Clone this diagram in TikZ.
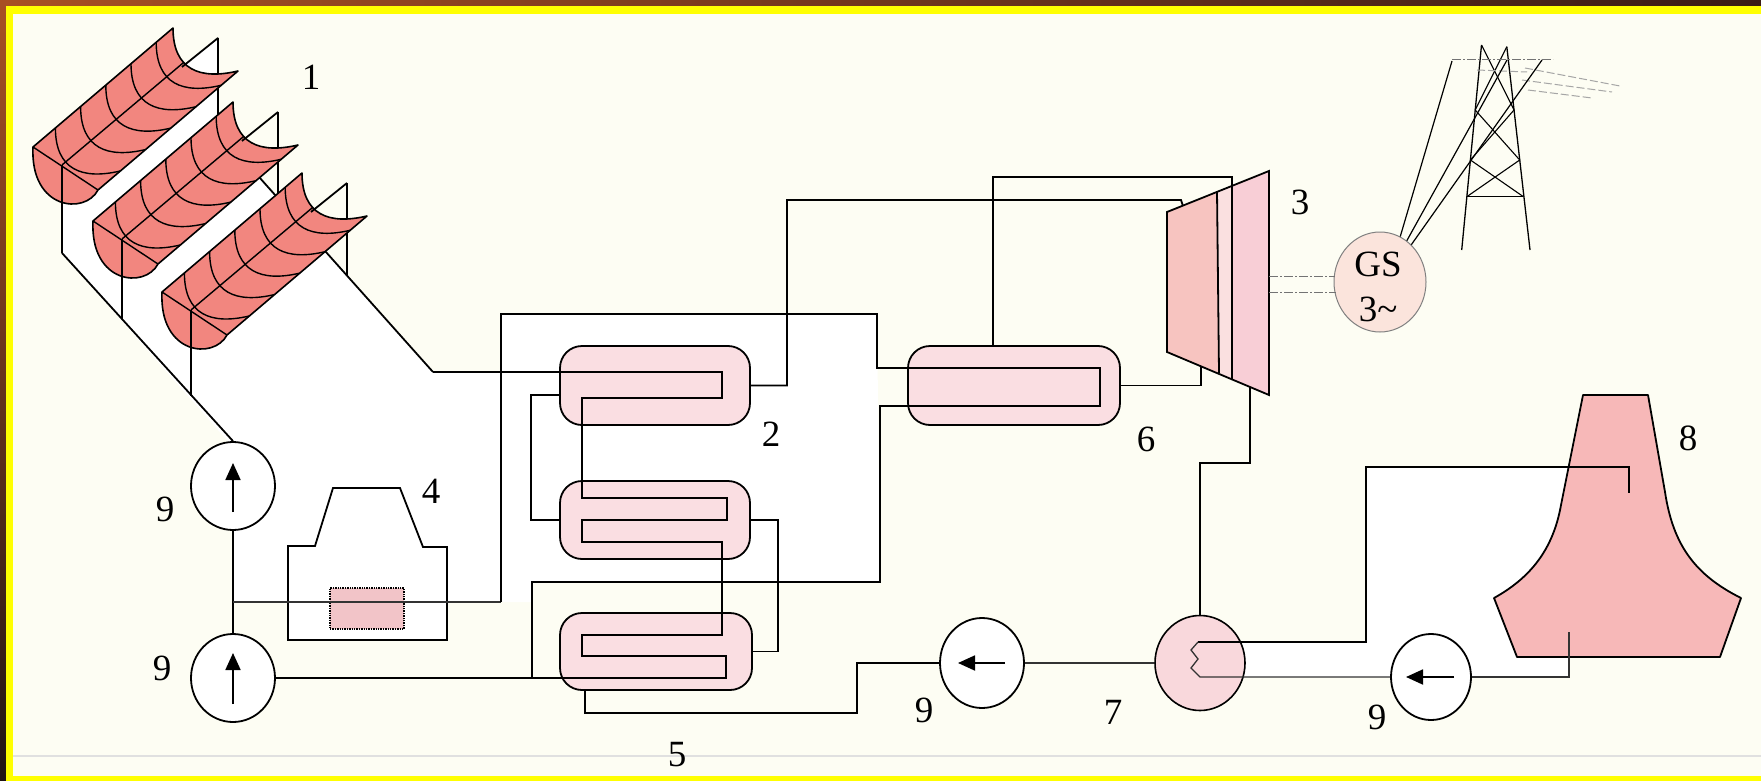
\documentclass[tikz,border=0pt]{standalone}
\usepackage{fontspec}
\setmainfont{Liberation Serif}
\usetikzlibrary{shapes.geometric,arrows.meta}
\definecolor{paper}{RGB}{253,253,243}
\definecolor{rimtop}{RGB}{168,80,36}
\definecolor{rimmid}{RGB}{196,104,50}
\definecolor{rimdark}{RGB}{58,28,22}
\definecolor{rimleftlow}{RGB}{32,20,20}
\definecolor{rimyellow}{RGB}{255,255,0}
\definecolor{mirror}{RGB}{242,134,127}
\definecolor{hxpink}{RGB}{250,222,226}
\definecolor{heaterpink}{RGB}{242,196,200}
\definecolor{turbA}{RGB}{247,196,192}
\definecolor{turbB}{RGB}{250,224,224}
\definecolor{turbC}{RGB}{248,206,214}
\definecolor{genpink}{RGB}{251,228,220}
\definecolor{condpink}{RGB}{249,216,220}
\definecolor{towerpink}{RGB}{247,184,184}

\begin{document}
\begin{tikzpicture}[x=1pt,y=-1pt,
  pipe/.style={line width=1.8pt},
  thinpipe/.style={line width=1.3pt,black!80},
  vessel/.style={draw,line width=1.8pt,fill=hxpink,rounded corners=22pt,inner sep=0pt},
  pumpbody/.style={ellipse,draw,line width=1.8pt,fill=white,inner sep=0pt},
  num/.style={inner sep=0pt,font=\fontsize{37}{40}\selectfont},
  flowtip/.style={line width=1.8pt,-{Triangle[length=17pt,width=15pt]}},
  shaft/.style={line width=1pt,black!55,dash pattern=on 9pt off 2pt on 2pt off 2pt},
  wire/.style={line width=1pt,black!35,dash pattern=on 8pt off 3pt},
]
\useasboundingbox (0,0) rectangle (1761,781);

% paper and frame
\fill[paper] (0,0) rectangle (1761,781);
\shade[left color=rimtop,middle color=rimmid,right color=rimdark] (0,0) rectangle (1761,6);
\shade[top color=rimtop,bottom color=rimleftlow] (0,0) rectangle (6,781);
\fill[rimyellow] (6,6) rectangle (1761,14);
\fill[rimyellow] (6,6) rectangle (13,781);
\fill[rimyellow] (6,776) rectangle (1761,781);
\draw[black!12,line width=1.5pt] (13,756) -- (1761,756);

% white areas enclosed by the piping
\fill[white] (62,165) -- (62,253) -- (233,447) -- (233,602) -- (501,602) -- (501,372) -- (433,372) -- (218,131) -- (218,38) -- (182,67) -- cycle;
\fill[white] (501,314) -- (877,314) -- (880,582) -- (532,582) -- (532,602) -- (501,602) -- cycle;
\fill[white] (1366,467) -- (1569,467) -- (1569,677) -- (1200,677) -- (1200,642) -- (1366,642) -- cycle;

% rear collector header with the support posts
\draw[pipe] (218,38) -- (218,131) -- (433,372);
\draw[pipe] (278,112) -- (278,198);
\draw[pipe] (347,183) -- (347,275.6);

% parabolic trough collectors
\foreach \dx/\dy in {0/0,60/74,129/145}{
  \begin{scope}[shift={(\dx,\dy)}]
    \fill[mirror] (33,147) -- (173,28) .. controls (173,70) and (200,80) .. (238,71) -- (98,190) .. controls (85,215) and (30,210) .. cycle;
    \begin{scope}
      \clip (33,147) -- (173,28) .. controls (173,70) and (200,80) .. (238,71) -- (98,190) .. controls (85,215) and (30,210) .. cycle;
      \foreach \k in {0.6,1.5,2.4,3.3,4.2}
        \draw[line width=1.4pt,shift={(-28*\k,23.8*\k)}] (173,28) .. controls (173,70) and (200,80) .. (238,71);
      \draw[line width=1.4pt] (62,165) -- (202,47);
      \draw[line width=1.4pt] (33,147) -- (98,190);
    \end{scope}
    \draw[line width=1.6pt,line join=round] (33,147) -- (173,28) .. controls (173,70) and (200,80) .. (238,71) -- (98,190) .. controls (85,215) and (30,210) .. cycle;
    \draw[pipe] (182,67) -- (218,38);
  \end{scope}
}

% equipment
\node[vessel,minimum width=190pt,minimum height=79pt] (hxa) at (655,385.5) {};
\node[vessel,minimum width=190pt,minimum height=78pt] (hxb) at (655,520) {};
\node[vessel,minimum width=192pt,minimum height=77pt] (hxc) at (656,651.5) {};
\node[vessel,minimum width=212pt,minimum height=79pt] (hxd) at (1014,385.5) {};
\node[pumpbody,minimum width=84pt,minimum height=88pt] (p1) at (233,486) {};
\node[pumpbody,minimum width=84pt,minimum height=88pt] (p2) at (233,678) {};
\node[pumpbody,minimum width=84pt,minimum height=90pt] (p3) at (982,663) {};
\node[pumpbody,minimum width=80pt,minimum height=86pt] (p4) at (1431,677) {};
\node[ellipse,draw,line width=1.6pt,fill=condpink,inner sep=0pt,minimum width=90pt,minimum height=95pt] (cond) at (1200,663) {};
\node[ellipse,draw,line width=1pt,draw=black!50,fill=genpink,inner sep=0pt,minimum width=92pt,minimum height=100pt] (gs) at (1380,282) {};
\coordinate (jn) at (233,602);

% feed legs and front header to the solar pump
\draw[pipe] (62,165) -- (62,253);
\draw[pipe] (122,239) -- (122,319);
\draw[pipe] (191,310) -- (191,396);
\draw[pipe] (62,253) -- (p1.north);

% auxiliary heater
\draw[pipe,fill=white] (288,546) -- (315,546) -- (333,488) -- (400,488) -- (423,547) -- (447,547) -- (447,640) -- (288,640) -- cycle;
\node[draw,densely dotted,line width=1.4pt,fill=heaterpink,inner sep=0pt,minimum width=74pt,minimum height=41pt] (heater) at (367,608.5) {};

% turbine
\fill[turbA] (1167,212) -- (1218,191.5) -- (1218,373) -- (1167,352) -- cycle;
\fill[turbB] (1218,191.5) -- (1232,186) -- (1232,379) -- (1218,373) -- cycle;
\fill[turbC] (1232,186) -- (1269,171) -- (1269,395) -- (1232,379) -- cycle;
\draw[pipe,line join=miter] (1167,212) -- (1269,171) -- (1269,395) -- (1167,352) -- cycle;
\draw[pipe] (1217,191.5) -- (1219,373);

% cooling tower
\filldraw[fill=towerpink,line width=1.8pt,line join=round] (1583,395) -- (1648,395) -- (1665,492) .. controls (1673,545) and (1695,575) .. (1741,598) -- (1720,657) -- (1517,657) -- (1494,598) .. controls (1530,578) and (1553,550) .. (1561,505) -- cycle;

% transmission tower
\draw[line width=1.3pt] (1481.5,45) -- (1461.7,250);
\draw[line width=1.3pt] (1506.8,46.7) -- (1530,250);
\draw[line width=1.3pt] (1466.8,196.7) -- (1523.4,196.7);
\draw[line width=1.1pt] (1481.5,45) -- (1514,110) -- (1470.4,160) -- (1523.4,196.7);
\draw[line width=1.1pt] (1506.8,46.7) -- (1475.2,110) -- (1519.7,160) -- (1466.8,196.7);
\draw[shaft] (1452,60) -- (1553,60);
\draw[wire] (1477,70) -- (1527,72);
\draw[wire] (1525,68) -- (1620,86);
\draw[wire] (1522,80) -- (1612,92);
\draw[wire] (1528,90) -- (1592,98);
\draw[line width=1.2pt] (gs.66) -- (1452,61);
\draw[line width=1.2pt] (gs.57) -- (1507,60);
\draw[line width=1.2pt] (gs.50) -- (1542,60);

% turbine shaft to generator
\draw[shaft] (1269,276) -- (1335,276);
\draw[shaft] (1269,292) -- (1336,292);

% solar loop through the heat exchangers
\draw[pipe] (433,372) -- (722,372) -- (722,398) -- (582,398) -- (582,498) -- (727,498) -- (727,520) -- (582,520) -- (582,542) -- (722,542) -- (722,635) -- (582,635) -- (582,656) -- (726,656) -- (726,678) -- (532,678);
\draw[pipe] (p2.east) -- (532,678);
\draw[pipe] (p1.south) -- (p2.north);
\draw[thinpipe] (jn) -- (501,602);
\draw[pipe] (501,602) -- (501,314) -- (877,314) -- (877,368) -- (1100,368) -- (1100,406) -- (880,406) -- (880,582) -- (532,582) -- (532,678);

% water / steam side
\draw[pipe] (hxa.east) -- (787,385.5) -- (787,200) -- (1181,200) -- (1183,206);
\draw[pipe] (560,395) -- (531,395) -- (531,520) -- (hxb.west);
\draw[pipe] (hxb.east) -- (778,520) -- (778,651.5) -- (hxc.east);
\draw[pipe] (585,690) -- (585,713) -- (857,713) -- (857,663) -- (p3.west);
\draw[pipe] (993,346) -- (993,177) -- (1232,177) -- (1232,379);
\draw[pipe] (hxd.east) -- (1201,385.5) -- (1201,367);
\draw[pipe] (1250,387) -- (1250,463) -- (1200,463) -- (cond.north);
\draw[thinpipe] (cond.west) -- (p3.east);

% cooling water circuit
\draw[pipe] (1198,642) -- (1366,642) -- (1366,467) -- (1629,467) -- (1629,493);
\draw[thinpipe] (1198,642) -- (1191,650) -- (1198,659) -- (1191,668) -- (1200,677) -- (p4.west);
\draw[thinpipe] (p4.east) -- (1569,677) -- (1569,632);

% pump directions
\draw[flowtip] ([yshift=-26pt]p1.center) -- ([yshift=23pt]p1.center);
\draw[flowtip] ([yshift=-26pt]p2.center) -- ([yshift=25pt]p2.center);
\draw[flowtip] ([xshift=23pt]p3.center) -- ([xshift=-24pt]p3.center);
\draw[flowtip] ([xshift=23pt]p4.center) -- ([xshift=-25pt]p4.center);

% labels
\node[num] (n1) at (311,77) {1};
\node[num] (n2) at (771,434) {2};
\node[num] (n3) at (1300,202) {3};
\node[num] (n4) at (431,491) {4};
\node[num] (n5) at (677,755) {5};
\node[num] (n6) at (1146,439) {6};
\node[num] (n7) at (1113,712) {7};
\node[num] (n8) at (1688,438) {8};
\node[num] (n9a) at (165,509) {9};
\node[num] (n9b) at (162,668) {9};
\node[num] (n9c) at (924,710) {9};
\node[num] (n9d) at (1377,717) {9};
\node[num] (gsname) at (1378,264) {GS};
\node[num] (gsphase) at (1378,309) {3\textasciitilde};
\end{tikzpicture}
\end{document}
